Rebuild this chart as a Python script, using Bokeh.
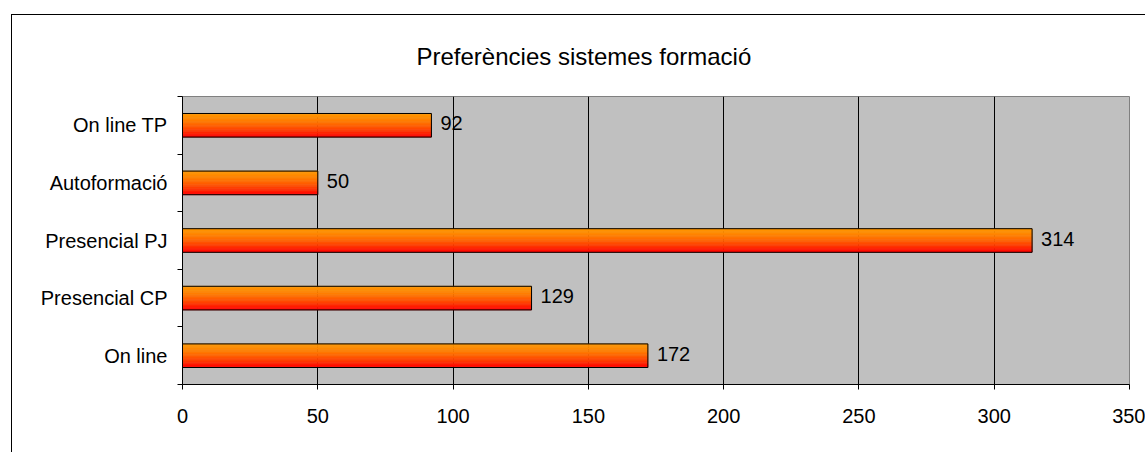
import numpy as np
from bokeh.plotting import figure
from bokeh.models import FixedTicker, ColumnDataSource, LabelSet
from bokeh.core.properties import value
from bokeh.embed import file_html
from bokeh.resources import INLINE

# ---- data ----
categories = ["On line", "Presencial CP", "Presencial PJ", "Autoformació", "On line TP"]
values = [172, 129, 314, 50, 92]
x_ticks = [0, 50, 100, 150, 200, 250, 300, 350]
title_text = "Preferències sistemes formació"

FONT = "Liberation Sans"
W, H = 1134, 438

p = figure(width=W, height=H, x_range=(0, 350), y_range=(0, len(categories)),
           output_backend="svg", toolbar_location=None,
           min_border_left=170, min_border_right=17, min_border_top=81, min_border_bottom=69)
p.margin = (14, 0, 0, 11)
p.styles = {"border-left": "1px solid black", "border-top": "1px solid black"}

p.title.text = title_text
p.title.align = "left"
p.title.offset = 234
p.title.vertical_align = "top"
p.title.standoff = 50
p.title.text_font = FONT
p.title.text_font_size = "24px"
p.title.text_font_style = "normal"
p.title.text_color = "black"

p.background_fill_color = "#C0C0C0"
p.border_fill_color = "white"
p.outline_line_color = "#808080"
p.outline_line_width = 1

centers = [i + 0.5 for i in range(len(categories))]
bar_h = 0.41

# gradient bars: orange top -> red bottom, built from thin strips
N = 18
top_rgb = np.array([255, 150, 0])
bot_rgb = np.array([255, 0, 0])
for k in range(N):
    t = (k + 0.5) / N
    tt = t ** 1.6
    rgb = (top_rgb * (1 - tt) + bot_rgb * tt).astype(int)
    col = "#%02x%02x%02x" % tuple(rgb)
    off = bar_h / 2 - (k + 0.5) * bar_h / N
    src = ColumnDataSource(dict(y=[c + off for c in centers], right=values))
    p.hbar(y="y", left=0, right="right", height=bar_h / N, source=src,
           fill_color=col, line_color=col, line_width=0.6)

src_main = ColumnDataSource(dict(y=centers, right=values, label=[str(v) for v in values]))
p.hbar(y="y", left=0, right="right", height=bar_h, source=src_main,
       fill_color=None, line_color="black", line_width=1)

labels = LabelSet(x="right", y="y", text="label", source=src_main, x_offset=9, y_offset=2,
                  text_baseline="middle", text_font=value(FONT), text_font_size=value("20px"),
                  text_color="black")
p.add_layout(labels)

# x axis
xa = p.xaxis[0]
xa.ticker = FixedTicker(ticks=x_ticks, minor_ticks=[])
xa.axis_line_color = "black"
xa.major_tick_line_color = "black"
xa.major_tick_in = 0
xa.major_tick_out = 5
xa.minor_tick_line_color = None
xa.major_label_text_font = FONT
xa.major_label_text_font_size = "20px"
xa.major_label_text_color = "black"
xa.major_label_standoff = 19

# y axis
ya = p.yaxis[0]
ya.ticker = FixedTicker(ticks=centers, minor_ticks=list(range(len(categories) + 1)))
ya.major_label_overrides = {c: name for c, name in zip(centers, categories)}
ya.axis_line_color = "black"
ya.major_tick_line_color = None
ya.major_tick_in = 0
ya.major_tick_out = 0
ya.minor_tick_line_color = "black"
ya.minor_tick_in = 0
ya.minor_tick_out = 5
ya.major_label_text_font = FONT
ya.major_label_text_font_size = "20px"
ya.major_label_text_color = "black"
ya.major_label_standoff = 10

p.xgrid.grid_line_color = "black"
p.xgrid.grid_line_width = 1
p.ygrid.grid_line_color = None

open("out.html", "w").write(file_html(p, INLINE))
